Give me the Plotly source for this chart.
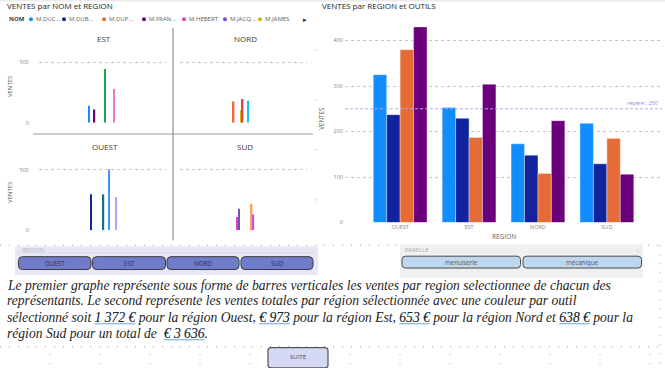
import plotly.graph_objects as go

W, H = 665, 368


def fx(px):
    return px / W


def fy(py):
    return 1 - py / H


# ---------------- DATA ----------------
# Left chart: sales per representative (NOM) and region
facet_regions = ["EST", "NORD", "OUEST", "SUD"]
noms = ["M.DUC...", "M.DUB...", "M.DUP...", "M.FRAN...", "M.HEBERT", "M.JACQ...", "M.JAMES",
        "M.LEROY", "M.MARTIN", "M.MOREAU", "M.PETIT", "M.RICHARD", "M.ROUX", "M.SIMON",
        "M.THOMAS", "M.VIDAL"]
nom_region = ["EST", "OUEST", "NORD", "EST", "SUD", "SUD", "NORD", "NORD",
              "OUEST", "EST", "NORD", "OUEST", "SUD", "SUD", "EST", "OUEST"]
nom_ventes = [141, 298, 175, 108, 110, 178, 101, 195, 298, 445, 182, 502, 220, 130, 279, 274]
legend_noms = noms[:7]

# Right chart: sales per region and tool
regions = ["OUEST", "EST", "NORD", "SUD"]
outils = ["marteau", "scie", "clé", "tournevis"]
ventes_marteau = [325, 253, 173, 218]
ventes_scie = [237, 229, 148, 129]
ventes_cle = [380, 187, 108, 185]
ventes_tournevis = [430, 304, 224, 106]
repere = 250

familles = ["menuiserie", "mécanique"]

# ---------------- STYLE ----------------
pbi = ["#118DFF", "#12239E", "#E66C37", "#6B007B", "#E044A7", "#744EC2", "#D9B300", "#D64550",
       "#197278", "#1AAB40", "#15C6F4", "#4092FF", "#FFA058", "#BE5DC9", "#F472D0", "#B5A1FF"]
FONT = "Open Sans"
GRID = "#C8C6C4"
TICK = "#8A8886"

fig = go.Figure()

# ---- small multiples ----
facet_dom = {
    "EST": ((39, 166), (124, 50.8)),
    "NORD": ((180, 307), (124, 50.8)),
    "OUEST": ((39, 166), (232.7, 159.5)),
    "SUD": ((180, 307), (232.7, 159.5)),
}
slot = 1.8 / 127
bw = 1.6 / 127
n = len(noms)
for k, reg in enumerate(facet_regions, start=1):
    for i, nom in enumerate(noms):
        val = nom_ventes[i] if nom_region[i] == reg else None
        fig.add_trace(go.Bar(
            x=[reg], y=[val], name=nom,
            marker=dict(color=pbi[i], line=dict(width=0)),
            width=bw, offset=(i - (n - 1) / 2) * slot - bw / 2,
            xaxis=f"x{k}", yaxis=f"y{k}", showlegend=False,
            hovertemplate=f"{nom}<br>{reg}: %{{y}}<extra></extra>",
        ))

layout_axes = {}
for k, reg in enumerate(facet_regions, start=1):
    (xa, xb), (ya, yb) = facet_dom[reg]
    sfx = "" if k == 1 else str(k)
    layout_axes[f"xaxis{sfx}"] = dict(
        domain=[fx(xa), fx(xb)], anchor=f"y{k}", type="category",
        range=[-0.5, 0.5], showticklabels=False, showgrid=False, zeroline=False,
        showline=False, fixedrange=True)
    layout_axes[f"yaxis{sfx}"] = dict(
        domain=[fy(ya), fy(yb)], anchor=f"x{k}", range=[0, 600],
        tickvals=[0, 500], showgrid=True, gridcolor=GRID, griddash="dot", gridwidth=1,
        zeroline=False, showline=False, showticklabels=reg in ("EST", "OUEST"),
        tickfont=dict(family=FONT, size=5.5, color=TICK), ticklabelstandoff=9,
        fixedrange=True)

# ---- right clustered chart ----
series = [ventes_marteau, ventes_scie, ventes_cle, ventes_tournevis]
for j, (outil, vals) in enumerate(zip(outils, series)):
    fig.add_trace(go.Bar(
        x=regions, y=vals, name=outil, xaxis="x5", yaxis="y5",
        marker=dict(color=pbi[j], line=dict(color="rgba(255,255,255,0.45)", width=0.8)),
        showlegend=False,
    ))

layout_axes["xaxis5"] = dict(
    domain=[fx(345), fx(662)], anchor="y5", type="category", range=[-0.8, 3.8],
    showgrid=False, zeroline=False, showline=False, ticks="",
    tickfont=dict(family=FONT, size=5.5, color=TICK), fixedrange=True)
layout_axes["yaxis5"] = dict(
    domain=[fy(225), fy(22)], anchor="x5", range=[0, 441.3],
    tickvals=[0, 100, 200, 300, 400], showgrid=True, gridcolor=GRID, griddash="dot",
    zeroline=False, showline=False, ticks="", ticklabelstandoff=1,
    tickfont=dict(family=FONT, size=5.5, color=TICK), fixedrange=True)

shapes = []
annotations = []


def rrect(x0, y0, x1, y1, r):
    p = [f"M{fx(x0 + r)},{fy(y0)}", f"L{fx(x1 - r)},{fy(y0)}",
         f"Q{fx(x1)},{fy(y0)} {fx(x1)},{fy(y0 + r)}", f"L{fx(x1)},{fy(y1 - r)}",
         f"Q{fx(x1)},{fy(y1)} {fx(x1 - r)},{fy(y1)}", f"L{fx(x0 + r)},{fy(y1)}",
         f"Q{fx(x0)},{fy(y1)} {fx(x0)},{fy(y1 - r)}", f"L{fx(x0)},{fy(y0 + r)}",
         f"Q{fx(x0)},{fy(y0)} {fx(x0 + r)},{fy(y0)}", "Z"]
    return " ".join(p)


def line(x0, y0, x1, y1, color, width=1, dash="solid"):
    shapes.append(dict(type="line", xref="paper", yref="paper", x0=fx(x0), y0=fy(y0),
                       x1=fx(x1), y1=fy(y1), line=dict(color=color, width=width, dash=dash)))


def rect(x0, y0, x1, y1, fill, lc=None, lw=0):
    shapes.append(dict(type="rect", xref="paper", yref="paper", x0=fx(x0), y0=fy(y0),
                       x1=fx(x1), y1=fy(y1), fillcolor=fill,
                       line=dict(color=lc or fill, width=lw)))


def text(x, y, s, size, color, xanchor="left", family=FONT, angle=0):
    annotations.append(dict(xref="paper", yref="paper", x=fx(x), y=fy(y), text=s,
                            showarrow=False, xanchor=xanchor, yanchor="middle",
                            textangle=angle, font=dict(family=family, size=size, color=color)))


# canvas dotted grid
DOT = "1px,8px"
line(0, 248, 665, 248, "#A0A0A0", 1, DOT)
line(0, 350.5, 665, 350.5, "#A0A0A0", 1, DOT)
line(660, 248, 660, 368, "#A0A0A0", 1, DOT)
for gx in range(50, 651, 50):
    line(gx, 358, gx, 368, "#A0A0A0", 1, DOT)
line(316, 50, 316, 246, "#A0A0A0", 1, "1px,49px")

# top shadow
rect(0, 0, 665, 1.5, "#ECECEC")

# facet dividers
line(173, 28, 173, 243, "#7A7A7A", 1)
line(33, 135.5, 313, 135.5, "#9A9A9A", 1)

# reference line
shapes.append(dict(type="line", xref="x5 domain", yref="y5", x0=0, x1=1, y0=repere, y1=repere,
                   line=dict(color="#AFA9E8", width=1, dash="3px,2px")))
annotations.append(dict(xref="x5 domain", yref="y5", x=0.995, y=repere, yshift=6,
                        text=f"repère : {repere}", showarrow=False, xanchor="right",
                        yanchor="middle", font=dict(family=FONT, size=5.5, color="#8B85E6")))

# REGION slicer
rect(15, 249, 318, 278, "#E7E8F4")
line(18, 255.5, 315, 255.5, "#D6D7E6", 1)
text(20, 252.5, "REGION", 6, "#B4B4C4")
btn_x = [(18.5, 91), (92.5, 165.5), (167, 239), (241, 313)]
for (a, b), reg in zip(btn_x, regions):
    shapes.append(dict(type="path", xref="paper", yref="paper", path=rrect(a, 259.5, b, 272.5, 4),
                       fillcolor="#707BCB", line=dict(color="#3A3A3A", width=1)))
    text((a + b) / 2, 266.3, reg, 6.2, "#2A2D5C", "center")

# FAMILLE slicer
rect(400, 247, 643, 281, "#F0F0F0")
text(403, 252.5, "FAMILLE", 6, "#ABABAB")
text(638, 252.5, "◇", 6, "#C0C0C0", "center")
fam_x = [(402, 520.5), (523, 641.5)]
for (a, b), fam in zip(fam_x, familles):
    shapes.append(dict(type="path", xref="paper", yref="paper", path=rrect(a, 259, b, 271, 3.5),
                       fillcolor="#BDD7EE", line=dict(color="#4A4A4A", width=1)))
    text((a + b) / 2, 265.2, fam, 6.2, "#555555", "center")

# SUITE button
shapes.append(dict(type="path", xref="paper", yref="paper", path=rrect(268, 351.5, 328, 372, 3),
                   fillcolor="#D5D9F4", line=dict(color="#555555", width=1.2)))
text(298, 361, "SUITE", 6, "#4A4A55", "center")

# titles
text(5, 6, "VENTES par NOM et REGION", 8, "#252423")
text(320, 6, "VENTES par REGION et OUTILS", 8, "#252423")

# custom legend
text(7, 19.5, "<b>NOM</b>", 6, "#3B3A39")
leg_dot_x = [31, 64, 104, 144, 184, 225, 260]
for cx, nom, col in zip(leg_dot_x, legend_noms, pbi):
    shapes.append(dict(type="circle", xref="paper", yref="paper", x0=fx(cx - 2), x1=fx(cx + 2),
                       y0=fy(21.5), y1=fy(17.5), fillcolor=col, line=dict(width=0)))
    text(cx + 3, 19.5, nom, 6, "#605E5C")
text(305, 19.5, "▸", 7, "#252423", "center")

# facet titles
text(104, 39, "EST", 8, "#3B3A39", "center")
text(245, 39, "NORD", 8, "#3B3A39", "center")
text(105, 148, "OUEST", 8, "#3B3A39", "center")
text(245, 148, "SUD", 8, "#3B3A39", "center")

# axis titles
text(10, 88, "VENTES", 6, "#605E5C", "center", angle=-90)
text(10, 195, "VENTES", 6, "#605E5C", "center", angle=-90)
text(322, 120, "VENTES", 6.2, "#605E5C", "center", angle=-90)
text(504, 239, "REGION", 6.5, "#605E5C", "center")

# paragraph
totals = [sum(v) for v in zip(*series)]


def fmt(v):
    return f"{v:,}".replace(",", " ")


UL = "<span style='color:#8DBDE8;text-decoration:underline'>{}</span>"

parts = [
    [("Le premier graphe représente sous forme de barres verticales les ventes par region selectionnee de chacun des", False)],
    [("représentants. Le second représente les ventes totales par région sélectionnée avec une couleur par outil", False)],
    [("sélectionné soit ", False), (fmt(totals[0]) + " €", True), (" pour la région Ouest, ", False),
     ("€ " + fmt(totals[1]), True), (" pour la région Est, ", False), (fmt(totals[2]) + " €", True),
     (" pour la région Nord et ", False), (fmt(totals[3]) + " €", True), (" pour la", False)],
    [("région Sud pour un total de \u00a0", False), ("€ " + fmt(sum(totals)), True), (".", False)],
]
line_y = [289, 304, 321, 337]
PFONT = "Liberation Serif"
PSIZE = 13.6
for segs, yy in zip(parts, line_y):
    plain = "".join(s for s, _ in segs)
    if any(flag for _, flag in segs):
        # underline layer (light blue), drawn beneath the dark text
        under = "".join(UL.format(s) if flag else s for s, flag in segs)
        text(5, yy, f"<i>{under}</i>", PSIZE, "#FFFFFF", family=PFONT)
    text(5, yy, f"<i>{plain}</i>", PSIZE, "#252423", family=PFONT)

fig.update_layout(
    width=W, height=H, autosize=False, margin=dict(l=0, r=0, t=0, b=0),
    paper_bgcolor="white", plot_bgcolor="rgba(0,0,0,0)",
    barmode="group", bargap=0.22, bargroupgap=0, showlegend=False,
    shapes=shapes, annotations=annotations, **layout_axes,
)

fig.write_html("out.html", config={"displayModeBar": False},
               post_script="document.body.style.margin='0';document.body.style.padding='0';")
